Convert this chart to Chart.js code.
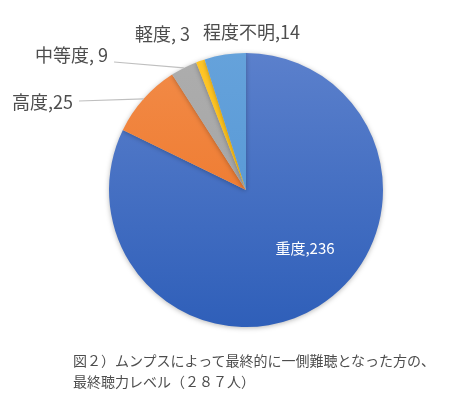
<!DOCTYPE html>
<html>
<head>
<meta charset="utf-8">
<script src="https://cdn.jsdelivr.net/npm/chart.js@4"></script>
<style>
  body { margin: 0; background: #fff; }
  #wrap { position: relative; width: 467px; height: 405px; }
  #caption {
    position: absolute; left: 73px; top: 350px;
    font-family: "Noto Sans CJK JP", sans-serif; font-size: 14px; line-height: 21px;
    color: #4d4d4d; white-space: nowrap;
  }
</style>
</head>
<body>
<div id="wrap">
  <canvas id="chart" width="467" height="405"></canvas>
  <div id="caption">図２）ムンプスによって最終的に一側難聴となった方の、<br>最終聴力レベル（２８７人）</div>
</div>
<script>
// data
const categories = ['重度', '高度', '中等度', '軽度', '程度不明'];
const counts = [236, 25, 9, 3, 14];
const labelTexts = ['重度,236', '高度,25', '中等度, 9', '軽度, 3', '程度不明,14'];

// slice colours: [top, bottom] of the vertical gradient
const sliceColors = [
  ['#5B80CC', '#2F5FB9'],
  ['#F28B48', '#EC7020'],
  ['#ADADAD', '#A0A0A0'],
  ['#FFC629', '#FDBA00'],
  ['#65A2DB', '#4F93D3']
];

// label placement (text anchor, relative to pie centre) and leader flag
const labelPlace = [
  { dx: 59, dy: 58, inside: true },
  { dx: -234, dy: -88, align: 'left', leader: true, ly: -1 },
  { dx: -211, dy: -135, align: 'left', leader: true, ly: 7 },
  { dx: -111, dy: -156, align: 'left' },
  { dx: -43, dy: -158, align: 'left' }
];

function sliceFill(context) {
  const chart = context.chart;
  const area = chart.chartArea;
  const c = sliceColors[context.dataIndex];
  if (!area) return c[0];
  const g = chart.ctx.createLinearGradient(0, area.top, 0, area.bottom);
  g.addColorStop(0, c[0]);
  g.addColorStop(1, c[1]);
  return g;
}

const pieLabels = {
  id: 'pieLabels',
  beforeDatasetsDraw(chart) {
    const ctx = chart.ctx;
    ctx.save();
    ctx.shadowColor = 'rgba(0,0,0,0.28)';
    ctx.shadowBlur = 5;
    ctx.shadowOffsetY = 1;
  },
  afterDatasetsDraw(chart) {
    const ctx = chart.ctx;
    ctx.restore();
    const arcs = chart.getDatasetMeta(0).data;
    ctx.save();
    arcs.forEach((arc, i) => {
      const p = labelPlace[i];
      const tx = arc.x + p.dx;
      const ty = arc.y + p.dy;
      if (p.inside) {
        ctx.font = '15px "Noto Sans CJK JP", sans-serif';
        ctx.fillStyle = '#ffffff';
        ctx.textAlign = 'center';
        ctx.textBaseline = 'middle';
        ctx.fillText(labelTexts[i], tx, ty);
        return;
      }
      ctx.font = '18px "Noto Sans CJK JP", sans-serif';
      ctx.fillStyle = '#4d4d4d';
      ctx.textAlign = p.align;
      ctx.textBaseline = 'middle';
      ctx.fillText(labelTexts[i], tx, ty);
      if (p.leader) {
        const mid = (arc.startAngle + arc.endAngle) / 2;
        const ex = arc.x + Math.cos(mid) * arc.outerRadius;
        const ey = arc.y + Math.sin(mid) * arc.outerRadius;
        const w = ctx.measureText(labelTexts[i]).width;
        ctx.strokeStyle = '#BFBFBF';
        ctx.lineWidth = 1.2;
        ctx.beginPath();
        ctx.moveTo(tx + w + 6, ty + p.ly);
        ctx.lineTo(ex, ey);
        ctx.stroke();
      }
    });
    ctx.restore();
  }
};

new Chart(document.getElementById('chart'), {
  type: 'pie',
  data: {
    labels: categories,
    datasets: [{
      data: counts,
      backgroundColor: sliceFill,
      borderWidth: 0
    }]
  },
  options: {
    responsive: false,
    animation: false,
    layout: { padding: { left: 109, right: 84, top: 53, bottom: 78 } },
    plugins: {
      legend: { display: false },
      tooltip: { enabled: false }
    }
  },
  plugins: [pieLabels]
});
</script>
</body>
</html>
